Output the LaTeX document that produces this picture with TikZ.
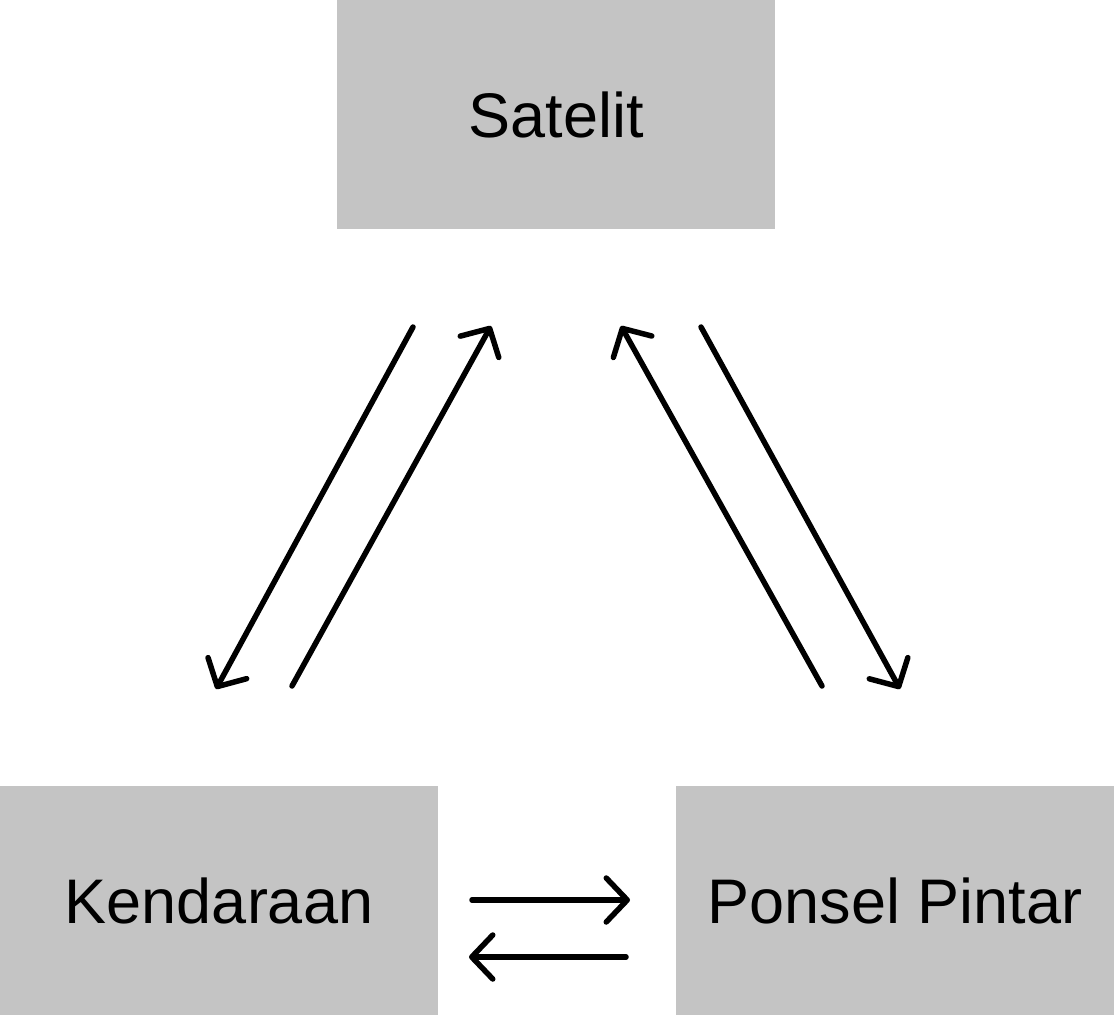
\documentclass[tikz,border=0pt]{standalone}
\usepackage{fontspec}
\setmainfont{Liberation Sans}
\usetikzlibrary{arrows.meta}
\definecolor{boxgray}{HTML}{C4C4C4}
\tikzset{
  box/.style={rectangle, fill=boxgray, draw=none, minimum width=438pt, minimum height=229pt, inner sep=0pt, font=\fontsize{63}{70}\selectfont},
  conn/.style={line width=5.5pt, line cap=round, line join=round, -{Straight Barb[length=21pt, width=44pt, line cap=round, line join=round]}}
}
\begin{document}
\begin{tikzpicture}[x=1pt, y=-1pt]
\useasboundingbox (0,0) rectangle (1114,1015);
\node[box] (sat) at (556,114.5) {Satelit};
\node[box] (ken) at (219,900.5) {Kendaraan};
\node[box] (pon) at (895,900.5) {Ponsel Pintar};
% endpoints
\coordinate (a1s) at (413,327);
\coordinate (a1e) at (216,689);
\coordinate (a2s) at (292,686);
\coordinate (a2e) at (491,326);
\coordinate (a3s) at (822,686);
\coordinate (a3e) at (621,326);
\coordinate (a4s) at (701,327);
\coordinate (a4e) at (900,689);
\coordinate (a5s) at (472,900);
\coordinate (a5e) at (630,900);
\coordinate (a6s) at (626,957);
\coordinate (a6e) at (469,957);
\draw[conn] (a1s) -- (a1e);
\draw[conn] (a2s) -- (a2e);
\draw[conn] (a3s) -- (a3e);
\draw[conn] (a4s) -- (a4e);
\draw[conn] (a5s) -- (a5e);
\draw[conn] (a6s) -- (a6e);
\end{tikzpicture}
\end{document}
